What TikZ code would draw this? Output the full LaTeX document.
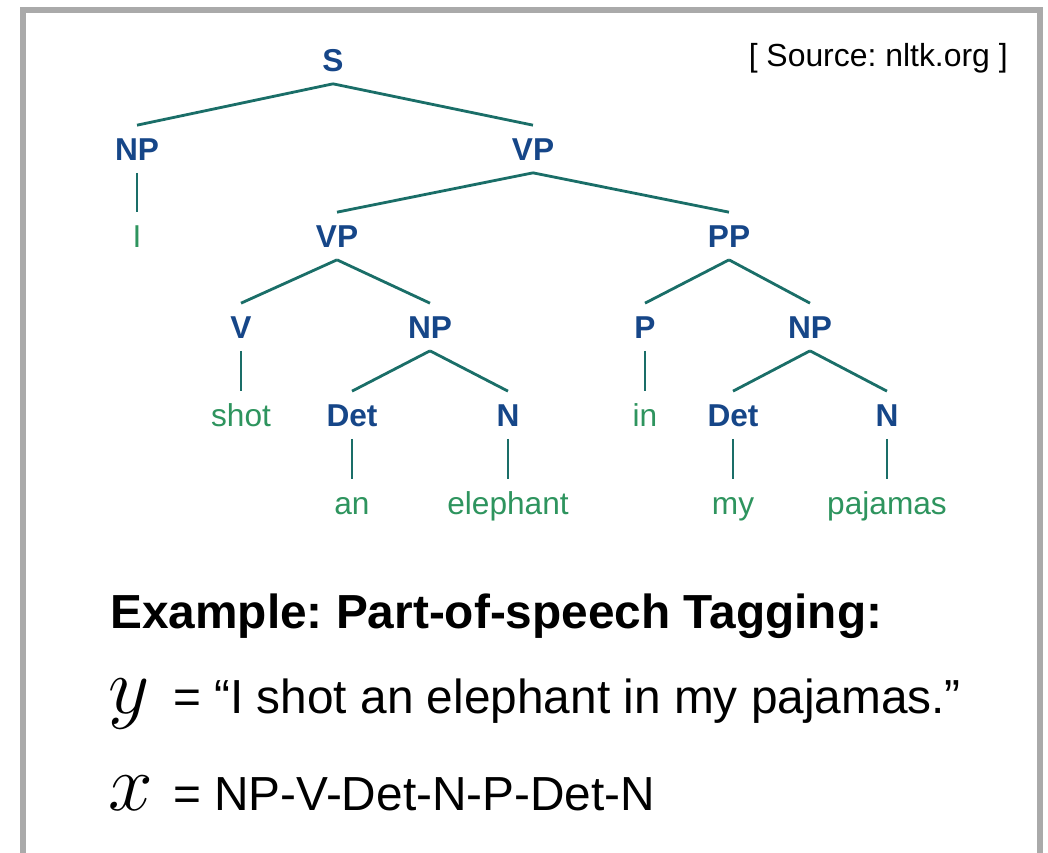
\RequirePackage{fix-cm}
\documentclass[tikz,border=0pt]{standalone}
\usepackage{fontspec}
\setmainfont{Liberation Sans}
\usetikzlibrary{positioning}
\frenchspacing
\definecolor{tagblue}{RGB}{22,70,136}
\definecolor{leafgreen}{RGB}{46,148,94}
\definecolor{branchteal}{RGB}{26,110,104}
\definecolor{framegray}{RGB}{170,170,170}
\tikzset{tag/.style={text=tagblue, font=\fontsize{22.5}{26}\selectfont\bfseries,
                     text height=16.5pt, text depth=0pt, inner xsep=0pt, inner ysep=8.5pt},
         word/.style={tag, text=leafgreen, font=\fontsize{22.5}{26}\selectfont},
         branch/.style={draw=branchteal, line width=2pt},
         bigtext/.style={anchor=base west, inner sep=0pt, font=\fontsize{34}{40}\selectfont},
         mathvar/.style={anchor=base west, inner sep=0pt, font=\fontsize{57}{60}\selectfont},
        }

\begin{document}
\begin{tikzpicture}
        \useasboundingbox (0,0) rectangle (26.2,-21.325);
        \draw[framegray, line width=0.15cm](0.575,-21.325)--(0.575,-0.25)--(26.0,-0.25)--(26.0,-21.325);

        \node[tag](s)at(8.325,-1.5){S};
        \node[tag](np)at(3.425,-3.725){NP};
        \node[tag](vp)at(13.325,-3.725){VP};
        \node[word](wI)at(3.425,-5.9){I};
        \node[tag](vpl)at(8.425,-5.9){VP};
        \node[tag](pp)at(18.225,-5.9){PP};
        \node[tag](v)at(6.025,-8.175){V};
        \node[tag](npl)at(10.75,-8.175){NP};
        \node[tag](p)at(16.125,-8.175){P};
        \node[tag](npr)at(20.25,-8.175){NP};
        \node[word](wshot)at(6.025,-10.375){shot};
        \node[tag](detl)at(8.8,-10.375){Det};
        \node[tag](nl)at(12.7,-10.375){N};
        \node[word](win)at(16.125,-10.375){in};
        \node[tag](detr)at(18.325,-10.375){Det};
        \node[tag](nr)at(22.175,-10.375){N};
        \node[word](wan)at(8.8,-12.575){an};
        \node[word](welephant)at(12.7,-12.575){elephant};
        \node[word](wmy)at(18.325,-12.575){my};
        \node[word](wpajamas)at(22.175,-12.575){pajamas};

        \foreach \a/\b in {s/np, s/vp, np/wI, vp/vpl, vp/pp, vpl/v, vpl/npl, v/wshot,
                           npl/detl, npl/nl, detl/wan, nl/welephant, pp/p, pp/npr,
                           p/win, npr/detr, npr/nr, detr/wmy, nr/wpajamas}
            \draw[branch](\a.south)--(\b.north);

        \node[anchor=base east, inner sep=0pt, font=\fontsize{22.7}{26}\selectfont](source)at(25.2,-1.65){[ Source: nltk.org ]};

        \node[bigtext, font=\fontsize{34}{40}\selectfont\bfseries](title)at(2.75,-15.7){Example: Part-of-speech Tagging:};
        \node[mathvar](yvar)at(2.7,-17.825){$y$};
        \node[bigtext](ytext)at(4.325,-17.825){= “I shot an elephant in my pajamas.”};
        \node[mathvar](xvar)at(2.7,-20.25){$x$};
        \node[bigtext](xtext)at(4.325,-20.25){= NP-V-Det-N-P-Det-N};
\end{tikzpicture}
\end{document}
